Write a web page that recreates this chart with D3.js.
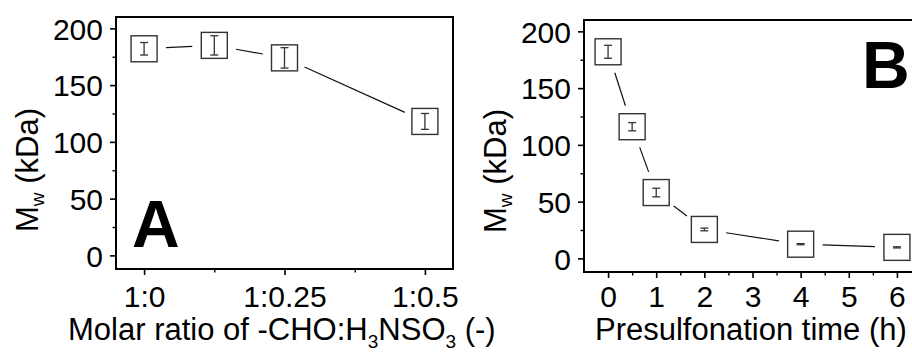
<!DOCTYPE html>
<html>
<head>
<meta charset="utf-8">
<script src="https://cdn.jsdelivr.net/npm/d3@7/dist/d3.min.js"></script>
<style>
html,body{margin:0;padding:0;background:#fff;}
svg{display:block;font-family:"Liberation Sans",Arial,Helvetica,sans-serif;}
</style>
</head>
<body>
<svg id="chart" width="912" height="352" viewBox="0 0 912 352"></svg>
<script>
// Panel A data
const ratioValues = [0, 0.125, 0.25, 0.5];
const mwA = [182, 185, 174, 118];
const errA = [5.5, 8.5, 9, 7];
const ratioTicks = [0, 0.25, 0.5];
const ratioTickLabels = ["1:0", "1:0.25", "1:0.5"];
const ratioMinorTicks = [0.125, 0.375];

// Panel B data
const timeValues = [0, 0.5, 1, 2, 4, 6];
const mwB = [182, 116, 58, 25.5, 12.5, 9.7];
const errB = [5.7, 3.6, 3.8, 1.2, 0.5, 0.5];
const timeTicks = [0, 1, 2, 3, 4, 5, 6];
const timeMinorTicks = [0.5, 1.5, 2.5, 3.5, 4.5, 5.5];

const yTicks = [0, 50, 100, 150, 200];
const yMinorTicks = [25, 75, 125, 175];

const svg = d3.select("#chart");
const TICKFONT = 30;
const TITLEFONT = 31;
const SUBFONT = 19;

function panel(cfg) {
  const g = svg.append("g");
  const x = d3.scaleLinear().domain(cfg.xDomain).range([cfg.left, cfg.right]);
  const y = d3.scaleLinear().domain([-12, 210]).range([cfg.bottom, cfg.top]);

  const clipId = "clip" + cfg.id;
  svg.append("clipPath").attr("id", clipId).append("rect")
    .attr("x", cfg.left).attr("y", cfg.top)
    .attr("width", cfg.right - cfg.left).attr("height", cfg.bottom - cfg.top);

  // y axis
  const yAxis = d3.axisLeft(y).tickValues(yTicks).tickSize(6).tickPadding(7).tickFormat(d3.format("d"));
  const ya = g.append("g").attr("transform", `translate(${cfg.left},0)`).call(yAxis);
  ya.select(".domain").remove();
  ya.selectAll("line").attr("stroke", "#000").attr("stroke-width", 1.6);
  ya.selectAll("text").style("font-size", TICKFONT + "px").attr("fill", "#000").attr("dy", "0.36em");
  const yMinor = d3.axisLeft(y).tickValues(yMinorTicks).tickSize(3.5).tickFormat("");
  const ym = g.append("g").attr("transform", `translate(${cfg.left},0)`).call(yMinor);
  ym.select(".domain").remove();
  ym.selectAll("line").attr("stroke", "#000").attr("stroke-width", 1.4);

  // x axis
  const xAxis = d3.axisBottom(x).tickValues(cfg.xTicks).tickSize(6)
    .tickFormat((d, i) => cfg.xLabels ? cfg.xLabels[i] : d);
  const xa = g.append("g").attr("transform", `translate(0,${cfg.bottom})`).call(xAxis);
  xa.select(".domain").remove();
  xa.selectAll("line").attr("stroke", "#000").attr("stroke-width", 1.6);
  xa.selectAll("text").style("font-size", TICKFONT + "px").attr("fill", "#000")
    .attr("y", 307 - cfg.bottom).attr("dy", 0);
  const xMinor = d3.axisBottom(x).tickValues(cfg.xMinor).tickSize(3.5).tickFormat("");
  const xm = g.append("g").attr("transform", `translate(0,${cfg.bottom})`).call(xMinor);
  xm.select(".domain").remove();
  xm.selectAll("line").attr("stroke", "#000").attr("stroke-width", 1.4);

  // frame
  g.append("rect").attr("x", cfg.left).attr("y", cfg.top)
    .attr("width", cfg.right - cfg.left).attr("height", cfg.bottom - cfg.top)
    .attr("fill", "none").attr("stroke", "#000").attr("stroke-width", 2);

  const pts = cfg.xs.map((v, i) => ({ x: x(v), y: y(cfg.ys[i]), e: cfg.errs[i], v: cfg.ys[i] }));
  const plot = g.append("g").attr("clip-path", `url(#${clipId})`);

  // connecting lines with gaps around markers
  const GAP = 22;
  for (let i = 0; i < pts.length - 1; i++) {
    const a = pts[i], b = pts[i + 1];
    const dx = b.x - a.x, dy = b.y - a.y, L = Math.hypot(dx, dy);
    if (L <= 2 * GAP) continue;
    const ux = dx / L, uy = dy / L;
    plot.append("line")
      .attr("x1", a.x + ux * GAP).attr("y1", a.y + uy * GAP)
      .attr("x2", b.x - ux * GAP).attr("y2", b.y - uy * GAP)
      .attr("stroke", "#111").attr("stroke-width", 1.2);
  }

  // markers
  const S = 26;
  const m = plot.selectAll("g.pt").data(pts).enter().append("g").attr("class", "pt");
  m.append("rect").attr("x", d => d.x - S / 2).attr("y", d => d.y - S / 2)
    .attr("width", S).attr("height", S)
    .attr("fill", "#fff").attr("stroke", "#333").attr("stroke-width", 1.4);
  // error bars
  const CAP = 4;
  m.append("line").attr("x1", d => d.x).attr("x2", d => d.x)
    .attr("y1", d => y(d.v + d.e)).attr("y2", d => y(d.v - d.e))
    .attr("stroke", "#333").attr("stroke-width", 1.3);
  m.append("line").attr("x1", d => d.x - CAP).attr("x2", d => d.x + CAP)
    .attr("y1", d => y(d.v + d.e)).attr("y2", d => y(d.v + d.e))
    .attr("stroke", "#333").attr("stroke-width", 1.3);
  m.append("line").attr("x1", d => d.x - CAP).attr("x2", d => d.x + CAP)
    .attr("y1", d => y(d.v - d.e)).attr("y2", d => y(d.v - d.e))
    .attr("stroke", "#333").attr("stroke-width", 1.3);

  // y title
  const yt = g.append("text")
    .attr("transform", `translate(${cfg.yTitleX},${cfg.yTitleY}) rotate(-90)`)
    .attr("text-anchor", "start").style("font-size", TITLEFONT + "px").attr("fill", "#000");
  yt.append("tspan").text("M");
  yt.append("tspan").style("font-size", SUBFONT + "px").attr("dy", 6).text("w");
  yt.append("tspan").attr("dy", -6).text(" (kDa)");

  // x title
  const xt = g.append("text").attr("x", cfg.xTitleX).attr("y", 340)
    .attr("text-anchor", "start").style("font-size", TITLEFONT + "px").attr("fill", "#000");
  cfg.xTitle(xt);

  // panel letter
  g.append("text").attr("x", cfg.letterX).attr("y", cfg.letterY)
    .style("font-size", "66px").attr("font-weight", "bold").attr("fill", "#000")
    .text(cfg.letter);
}

panel({
  id: "A", left: 116, right: 453, top: 17, bottom: 269,
  xDomain: [-0.05, 0.55], xTicks: ratioTicks, xLabels: ratioTickLabels, xMinor: ratioMinorTicks,
  xs: ratioValues, ys: mwA, errs: errA,
  yTitleX: 38, yTitleY: 232, xTitleX: 68,
  xTitle: t => {
    t.append("tspan").text("Molar ratio of -CHO:H");
    t.append("tspan").style("font-size", SUBFONT + "px").attr("dy", 8).text("3");
    t.append("tspan").attr("dy", -8).text("NSO");
    t.append("tspan").style("font-size", SUBFONT + "px").attr("dy", 8).text("3");
    t.append("tspan").attr("dy", -8).text(" (-)");
  },
  letter: "A", letterX: 132, letterY: 247
});

panel({
  id: "B", left: 584, right: 921, top: 20, bottom: 272,
  xDomain: [-0.5, 6.5], xTicks: timeTicks, xLabels: null, xMinor: timeMinorTicks,
  xs: timeValues, ys: mwB, errs: errB,
  yTitleX: 506, yTitleY: 233, xTitleX: 595,
  xTitle: t => { t.text("Presulfonation time (h)"); },
  letter: "B", letterX: 862, letterY: 88
});
</script>
</body>
</html>
